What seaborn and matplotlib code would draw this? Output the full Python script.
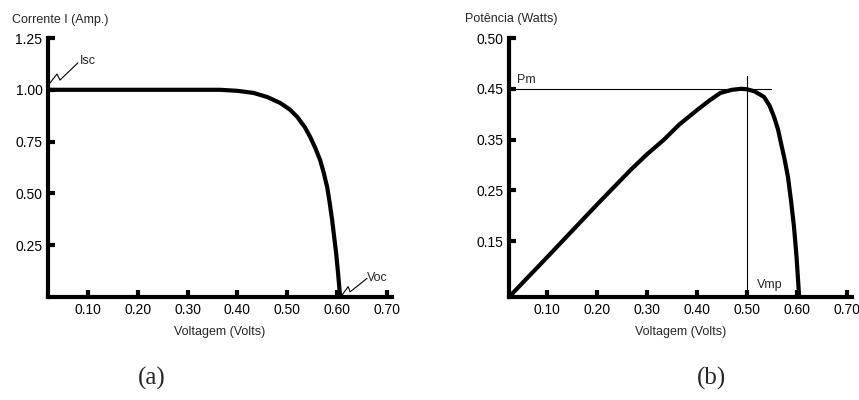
import matplotlib
matplotlib.use("Agg")
import matplotlib.pyplot as plt
import seaborn as sns
import pandas as pd

# ---- data ----
# (a) I-V curve
v_iv = [0.02, 0.10, 0.20, 0.30, 0.365, 0.40, 0.432, 0.46, 0.486, 0.505, 0.52,
        0.535, 0.546, 0.556, 0.566, 0.573, 0.58, 0.585, 0.59, 0.594, 0.598, 0.602, 0.606]
i_iv = [1.0, 1.0, 1.0, 1.0, 1.0, 0.995, 0.985, 0.965, 0.936, 0.905, 0.869,
        0.82, 0.772, 0.72, 0.66, 0.60, 0.53, 0.455, 0.37, 0.29, 0.21, 0.11, 0.0]
# (b) P-V curve (values in the chart's own axis units)
v_pv = [0.024, 0.10, 0.20, 0.267, 0.30, 0.333, 0.365, 0.40, 0.425, 0.447, 0.47,
        0.488, 0.50, 0.515, 0.534, 0.545, 0.554, 0.562, 0.568, 0.575, 0.582,
        0.588, 0.594, 0.599, 0.604]
p_pv = [0.04, 0.118, 0.222, 0.29, 0.321, 0.349, 0.38, 0.408, 0.427, 0.442, 0.448,
        0.45, 0.449, 0.445, 0.434, 0.417, 0.395, 0.37, 0.343, 0.312, 0.276,
        0.23, 0.178, 0.12, 0.045]

x_ticks = [0.10, 0.20, 0.30, 0.40, 0.50, 0.60, 0.70]
x_ticklabels = ["0.10", "0.20", "0.30", "0.40", "0.50", "0.60", "0.70"]
ya_ticks = [0.25, 0.50, 0.75, 1.00, 1.25]
ya_ticklabels = ["0.25", "0.50", "0.75", "1.00", "1.25"]
yb_ticks = [0.15, 0.25, 0.35, 0.45, 0.55]
yb_ticklabels = ["0.15", "0.25", "0.35", "0.45", "0.50"]

pm_value = 0.45
vmp_value = 0.50

sns.set_theme(style="ticks")
plt.rcParams['font.family'] = ['Liberation Sans', 'DejaVu Sans']

fig = plt.figure(figsize=(8.59, 4.00), dpi=100)
W, H = 859, 400
ax1 = fig.add_axes([48 / W, (H - 297) / H, 344 / W, 259 / H])
ax2 = fig.add_axes([509 / W, (H - 297) / H, 343 / W, 259 / H])

df_a = pd.DataFrame({"V": v_iv, "I": i_iv})
df_b = pd.DataFrame({"V": v_pv, "P": p_pv})

sns.lineplot(data=df_a, x="V", y="I", ax=ax1, color="black", linewidth=3,
             sort=False, estimator=None)
sns.lineplot(data=df_b, x="V", y="P", ax=ax2, color="black", linewidth=3,
             sort=False, estimator=None)

for ax in (ax1, ax2):
    for s in ("top", "right"):
        ax.spines[s].set_visible(False)
    for s in ("left", "bottom"):
        ax.spines[s].set_linewidth(3)
        ax.spines[s].set_color("black")
    ax.tick_params(direction="in", length=5, width=3, colors="black",
                   labelsize=10, pad=4)
    ax.set_xticks(x_ticks)
    ax.set_xticklabels(x_ticklabels)
    ax.set_xlabel("Voltagem (Volts)", fontsize=9, labelpad=7)
    ax.set_ylabel("")
    ax.patch.set_alpha(0)

ax1.set_xlim(0.02, 0.71)
ax1.set_ylim(0.0, 1.25)
ax1.set_yticks(ya_ticks)
ax1.set_yticklabels(ya_ticklabels)

ax2.set_xlim(0.024, 0.71)
ax2.set_ylim(0.04, 0.55)
ax2.set_yticks(yb_ticks)
ax2.set_yticklabels(yb_ticklabels)

# y labels above axes
ax1.text(-0.105, 1.07, "Corrente I (Amp.)", transform=ax1.transAxes,
         fontsize=9, ha="left", va="center")
ax2.text(-0.128, 1.075, "Potência (Watts)", transform=ax2.transAxes,
         fontsize=9, ha="left", va="center")

# Isc annotation (zigzag)
ax1.plot([0.024, 0.038, 0.044, 0.08], [1.033, 1.076, 1.047, 1.13],
         color="black", linewidth=0.8, clip_on=False)
ax1.text(0.083, 1.14, "Isc", fontsize=9, ha="left", va="center")
# Voc annotation
ax1.plot([0.61, 0.622, 0.626, 0.66], [0.01, 0.05, 0.025, 0.09],
         color="black", linewidth=0.8, clip_on=False)
ax1.text(0.66, 0.09, "Voc", fontsize=9, ha="left", va="center")

# Pm / Vmp guide lines
ax2.plot([0.024, 0.548], [pm_value, pm_value], color="black", linewidth=0.8)
ax2.plot([vmp_value, vmp_value], [0.04, 0.475], color="black", linewidth=0.8)
ax2.text(0.04, 0.455, "Pm", fontsize=9, ha="left", va="bottom")
ax2.text(0.52, 0.063, "Vmp", fontsize=9, ha="left", va="center")

# panel labels
fig.text(152 / W, 1 - 378 / H, "(a)", fontsize=18, ha="center", va="center",
         family=["Liberation Serif", "DejaVu Serif"])
fig.text(712 / W, 1 - 378 / H, "(b)", fontsize=18, ha="center", va="center",
         family=["Liberation Serif", "DejaVu Serif"])

fig.savefig("out.png", dpi=100)
